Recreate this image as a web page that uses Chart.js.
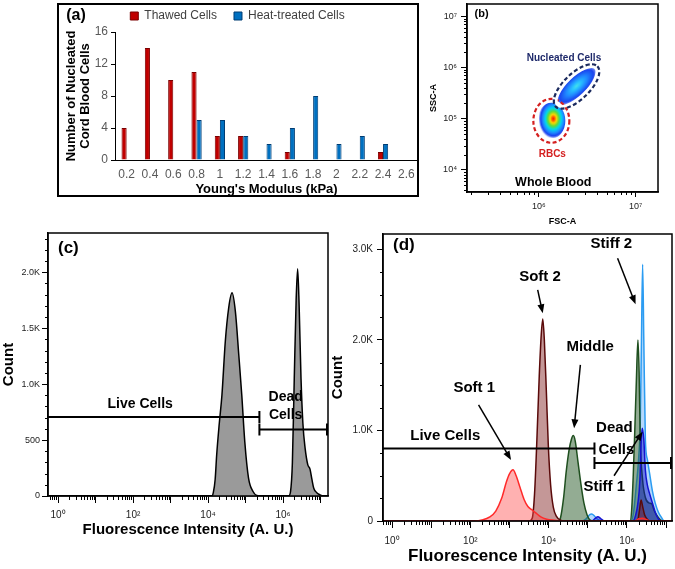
<!DOCTYPE html>
<html>
<head>
<meta charset="utf-8">
<script src="https://cdn.jsdelivr.net/npm/chart.js@4.4.0/dist/chart.umd.min.js"></script>
<style>
  html, body { margin: 0; padding: 0; background: #fff; }
  body { position: relative; width: 675px; height: 569px; overflow: hidden; }
  canvas { position: absolute; }
  #chartA { left: 57px; top: 3px; }
  #chartB { left: 420px; top: 0px; }
  #chartC { left: 0px; top: 225px; }
  #chartD { left: 328px; top: 225px; }
</style>
</head>
<body>
<canvas id="chartA" width="362" height="194"></canvas>
<canvas id="chartB" width="255" height="230"></canvas>
<canvas id="chartC" width="340" height="320"></canvas>
<canvas id="chartD" width="347" height="344"></canvas>
<script>
// ---- (a) Young's modulus histogram ----
const modulusKPa = ['0.2', '0.4', '0.6', '0.8', '1', '1.2', '1.4', '1.6', '1.8', '2', '2.2', '2.4', '2.6'];
const thawedCells = [4, 14, 10, 11, 3, 3, 0, 1, 0, 0, 0, 1, 0];
const heatTreatedCells = [0, 0, 0, 5, 5, 3, 2, 4, 8, 2, 3, 2, 0];

// ---- (b) FSC/SSC plot, log10 units ----
const rbcCentre = [6.15, 5.0];
const nucleatedCentre = [6.39, 5.64];
const rbcGate = [6.13, 4.96];
const nucleatedGate = [6.39, 5.63];

// ---- (c) single stain histogram, x in log10 units ----
const cExp = [-0.3, 4.1, 4.14, 4.19, 4.23, 4.3, 4.37, 4.46, 4.55, 4.64, 4.73, 4.82, 4.9, 4.98, 5.08, 5.2, 5.3, 5.45,
  6.15, 6.2, 6.25, 6.3, 6.35, 6.39, 6.43, 6.48, 6.53, 6.59, 6.66, 6.72, 6.77, 6.82, 6.9, 7.0, 7.08, 7.3];
const cCount = [0, 0, 30, 150, 366, 650, 900, 1380, 1680, 1815, 1645, 1260, 900, 485, 160, 40, 5, 0,
  0, 40, 300, 1050, 1750, 2030, 1700, 1050, 650, 425, 280, 240, 150, 70, 30, 8, 0, 0];

// ---- (d) sorted fractions, x in log10 units ----
const soft1Exp = [-0.3, 2.1, 2.3, 2.5, 2.65, 2.8, 2.92, 3.0, 3.09, 3.17, 3.27, 3.37, 3.47, 3.57, 3.67, 3.8, 3.95, 4.15, 4.35, 6.2, 6.3, 6.4, 6.5, 6.6, 7.3];
const soft1Count = [0, 0, 10, 45, 110, 250, 430, 520, 565, 500, 370, 240, 160, 125, 90, 45, 20, 8, 0, 0, 25, 30, 15, 0, 0];
const soft2Exp = [-0.3, 3.5, 3.58, 3.64, 3.7, 3.76, 3.81, 3.85, 3.89, 3.94, 3.99, 4.05, 4.12, 4.2, 4.3, 4.45, 6.2, 6.28, 6.32, 6.36, 6.4, 6.45, 6.52, 6.6, 7.3];
const soft2Count = [0, 0, 30, 300, 900, 1600, 2050, 2230, 2000, 1450, 850, 400, 150, 50, 10, 0, 0, 20, 120, 232, 160, 70, 20, 0, 0];
const middleExp = [-0.3, 4.25, 4.3, 4.38, 4.45, 4.52, 4.58, 4.63, 4.68, 4.75, 4.82, 4.9, 4.98, 5.06, 5.15,
  6.08, 6.12, 6.16, 6.2, 6.24, 6.28, 6.31, 6.34, 6.4, 6.47, 6.56, 6.63, 6.7, 6.78, 6.86, 6.95, 7.3];
const middleCount = [0, 0, 30, 250, 550, 780, 900, 943, 880, 650, 420, 200, 70, 10, 0,
  0, 120, 500, 1000, 1550, 2000, 1650, 900, 450, 260, 200, 190, 110, 50, 10, 0, 0];
const stiff2Exp = [-0.3, 4.85, 4.95, 5.05, 5.1, 5.18, 5.25, 5.35, 6.1, 6.17, 6.24, 6.3, 6.34, 6.37, 6.4, 6.43, 6.47, 6.52, 6.58, 6.65, 6.72, 6.8, 6.88, 6.95, 7.3];
const stiff2Count = [0, 0, 20, 70, 77, 50, 20, 0, 0, 100, 400, 700, 1100, 2000, 2836, 2000, 900, 680, 520, 330, 200, 100, 40, 0, 0];
const stiff1Exp = [-0.3, 5.1, 5.18, 5.26, 5.32, 5.42, 6.15, 6.22, 6.28, 6.33, 6.36, 6.39, 6.43, 6.47, 6.52, 6.58, 6.65, 6.72, 6.8, 6.88, 7.3];
const stiff1Count = [0, 0, 25, 48, 30, 0, 0, 60, 200, 450, 850, 1024, 900, 560, 400, 300, 200, 100, 25, 0, 0];

Chart.defaults.font.family = "'Liberation Sans', Arial, sans-serif";
Chart.defaults.color = '#000';
Chart.defaults.animation = false;
Chart.defaults.plugins.tooltip.enabled = false;

const SUP = { '0': '⁰', '1': '¹', '2': '²', '3': '³', '4': '⁴', '5': '⁵', '6': '⁶', '7': '⁷', '8': '⁸', '9': '⁹', '-': '⁻' };
const powLabel = e => '10' + String(e).split('').map(c => SUP[c]).join('');
const pts = (xs, ys) => xs.map((e, i) => ({ x: Math.pow(10, e), y: ys[i] }));

function logMinor(k0, k1) {
  const out = [];
  for (let k = k0; k <= k1; k++) for (let d = 2; d <= 9; d++) out.push(k + Math.log10(d));
  return out;
}
function linMinor(step, max, skip) {
  const out = [];
  for (let v = step; v <= max; v += step) if (v % skip !== 0) out.push(v);
  return out;
}

// frame, minor ticks, gates, arrows and labels
const panelPlugin = {
  id: 'panel',
  afterDraw(chart, args, o) {
    const ctx = chart.ctx, a = chart.chartArea;
    const sx = chart.scales.x, sy = chart.scales.y;
    const X = v => sx.getPixelForValue(o.logX ? Math.pow(10, v) : v);
    const Y = v => sy.getPixelForValue(o.logY ? Math.pow(10, v) : v);
    ctx.save();
    ctx.strokeStyle = '#000';
    if (o.frame === 'area') {
      ctx.lineWidth = 1.5;
      ctx.strokeRect(a.left, a.top, a.right - a.left, a.bottom - a.top);
    } else if (o.frame === 'canvas') {
      ctx.lineWidth = 2;
      ctx.strokeRect(1, 1, chart.width - 2, chart.height - 2);
    }
    (o.minor || []).forEach(m => {
      const s = chart.scales[m.axis];
      ctx.lineWidth = 1;
      m.values.forEach(v => {
        const val = s.type === 'logarithmic' ? Math.pow(10, v) : v;
        if (val < s.min || val > s.max) return;
        const p = Math.round(s.getPixelForValue(val)) + 0.5;
        ctx.beginPath();
        if (s.isHorizontal()) { ctx.moveTo(p, a.bottom); ctx.lineTo(p, a.bottom + m.len); }
        else { ctx.moveTo(a.left, p); ctx.lineTo(a.left - m.len, p); }
        ctx.stroke();
      });
    });
    (o.gates || []).forEach(g => {
      const x1 = Math.max(a.left, X(g.from)), x2 = Math.min(a.right - 1, X(g.to)), y = Y(g.y);
      ctx.lineWidth = 2;
      ctx.beginPath(); ctx.moveTo(x1, y); ctx.lineTo(x2, y);
      if (g.ends[0]) { ctx.moveTo(x1, y - 6); ctx.lineTo(x1, y + 6); }
      if (g.ends[1]) { ctx.moveTo(x2, y - 6); ctx.lineTo(x2, y + 6); }
      ctx.stroke();
    });
    (o.rings || []).forEach(r => {
      const cx = X(r.x), cy = Y(r.y), rot = r.rot * Math.PI / 180;
      if (r.under) {
        ctx.setLineDash([]); ctx.lineWidth = 3; ctx.strokeStyle = r.under;
        ctx.beginPath(); ctx.ellipse(cx, cy, r.rx - 2.5, r.ry - 2.5, rot, 0, 2 * Math.PI); ctx.stroke();
      }
      ctx.setLineDash([4, 2.5]); ctx.lineWidth = 2.2; ctx.strokeStyle = r.color;
      ctx.beginPath(); ctx.ellipse(cx, cy, r.rx, r.ry, rot, 0, 2 * Math.PI); ctx.stroke();
      ctx.setLineDash([]);
    });
    (o.arrows || []).forEach(ar => {
      const x1 = X(ar[0][0]), y1 = Y(ar[0][1]), x2 = X(ar[1][0]), y2 = Y(ar[1][1]);
      const ang = Math.atan2(y2 - y1, x2 - x1);
      ctx.strokeStyle = '#000'; ctx.fillStyle = '#000'; ctx.lineWidth = 1.5;
      ctx.beginPath(); ctx.moveTo(x1, y1); ctx.lineTo(x2 - 6 * Math.cos(ang), y2 - 6 * Math.sin(ang)); ctx.stroke();
      ctx.beginPath();
      ctx.moveTo(x2, y2);
      ctx.lineTo(x2 - 9 * Math.cos(ang) + 3.5 * Math.sin(ang), y2 - 9 * Math.sin(ang) - 3.5 * Math.cos(ang));
      ctx.lineTo(x2 - 9 * Math.cos(ang) - 3.5 * Math.sin(ang), y2 - 9 * Math.sin(ang) + 3.5 * Math.cos(ang));
      ctx.closePath(); ctx.fill();
    });
    (o.texts || []).forEach(t => {
      ctx.font = t.font;
      ctx.fillStyle = t.color || '#000';
      ctx.textAlign = t.align || 'center';
      ctx.textBaseline = 'middle';
      const x = t.px ? t.px[0] : X(t.x), y = t.px ? t.px[1] : Y(t.y);
      ctx.fillText(t.text, x, y);
    });
    ctx.restore();
  }
};

// fixed legend height for (a)
const legendFit = {
  id: 'legendFit',
  beforeLayout(chart) {
    const lg = chart.legend;
    if (!lg || lg._fixed) return;
    const fit = lg.fit;
    lg.fit = function () { fit.call(this); this.height = 39; };
    lg._fixed = true;
  }
};

function logAxis(o) {
  return {
    type: 'logarithmic',
    min: Math.pow(10, o.min), max: Math.pow(10, o.max),
    afterBuildTicks: s => { s.ticks = o.majors.map(e => ({ value: Math.pow(10, e) })); },
    afterFit: s => {
      if (o.height) s.height = o.height;
      if (o.width) s.width = o.width;
      s.paddingLeft = s.paddingRight = s.paddingTop = s.paddingBottom = 0;
    },
    grid: { drawOnChartArea: false, tickLength: o.tickLength, color: '#000', tickWidth: 1 },
    border: { color: '#000', width: 1.5 },
    ticks: {
      autoSkip: false, maxRotation: 0, padding: o.tickPad, color: '#222',
      font: { size: o.tickFont },
      callback: v => {
        const e = Math.round(Math.log10(v));
        return o.labelled.includes(e) ? powLabel(e) : '';
      }
    },
    title: { display: true, text: o.title, font: { size: o.titleFont, weight: 'bold' }, padding: o.titlePad, color: '#000' }
  };
}

function countAxis(o) {
  return {
    type: 'linear',
    min: 0, max: o.max,
    afterBuildTicks: s => { s.ticks = o.majors.map(v => ({ value: v })); },
    afterFit: s => { s.width = o.width; s.paddingTop = s.paddingBottom = 0; },
    grid: { drawOnChartArea: false, tickLength: 6, color: '#000' },
    border: { color: '#000', width: 1.5 },
    ticks: {
      autoSkip: false, padding: o.tickPad, color: '#222', font: { size: o.tickFont },
      callback: v => v >= 1000 ? (v / 1000).toFixed(1) + 'K' : String(v)
    },
    title: { display: true, text: 'Count', font: { size: 15, weight: 'bold' }, padding: { top: o.titlePad, bottom: 0 }, color: '#000' }
  };
}

// ---------------- (a) ----------------
new Chart(document.getElementById('chartA'), {
  type: 'bar',
  data: {
    labels: modulusKPa,
    datasets: [
      { label: 'Thawed Cells', data: thawedCells, backgroundColor: '#C00000', borderColor: '#7a0000', borderWidth: 1 },
      { label: 'Heat-treated Cells', data: heatTreatedCells, backgroundColor: '#0070C0', borderColor: '#003d73', borderWidth: 1 }
    ]
  },
  options: {
    responsive: false,
    layout: { padding: { top: -10, right: 1, left: 0, bottom: 0 }, autoPadding: false },
    datasets: { bar: { categoryPercentage: 0.44, barPercentage: 1 } },
    scales: {
      x: {
        afterFit: s => { s.height = 37; s.paddingLeft = s.paddingRight = 0; },
        grid: { display: false, drawTicks: false },
        border: { color: '#000', width: 1 },
        ticks: { padding: 7, color: '#595959', font: { size: 12 }, maxRotation: 0 },
        title: { display: true, text: "Young's Modulus (kPa)", font: { size: 13, weight: 'bold' }, padding: 0, color: '#000' }
      },
      y: {
        min: 0, max: 16,
        afterFit: s => { s.width = 58; s.paddingTop = s.paddingBottom = 0; },
        grid: { drawOnChartArea: false, tickLength: 4, color: '#000' },
        border: { color: '#000', width: 1 },
        ticks: { stepSize: 4, padding: 3, color: '#595959', font: { size: 12 } },
        title: {
          display: true, text: ['Number of Nucleated', 'Cord Blood Cells'],
          font: { size: 13, weight: 'bold', lineHeight: 1.05 }, padding: { top: 8, bottom: 0 }, color: '#000'
        }
      }
    },
    plugins: {
      legend: {
        position: 'top',
        labels: { boxWidth: 8, boxHeight: 8, padding: 17, color: '#404040', font: { size: 12 } }
      },
      panel: { frame: 'canvas', texts: [{ text: '(a)', px: [19, 13], font: 'bold 16px "Liberation Sans", Arial' }] }
    }
  },
  plugins: [panelPlugin, legendFit]
});

// ---------------- (b) ----------------
function blob(w, h, stops) {
  const c = document.createElement('canvas');
  c.width = w; c.height = h;
  const g = c.getContext('2d');
  g.translate(w / 2, h / 2);
  g.scale(w / 2, h / 2);
  const grad = g.createRadialGradient(0, 0, 0, 0, 0, 1);
  stops.forEach(s => grad.addColorStop(s[0], s[1]));
  g.fillStyle = grad;
  g.beginPath(); g.arc(0, 0, 1, 0, 2 * Math.PI); g.fill();
  return c;
}
const rbcImg = blob(29, 39, [[0, '#ff1a00'], [0.1, '#ff5a00'], [0.22, '#ffd800'], [0.38, '#5cdc3c'],
  [0.55, '#00d8f0'], [0.72, '#1f8cff'], [0.88, '#1a40f0'], [1, 'rgba(30,60,240,0.25)']]);
const nucImg = blob(54, 22, [[0, '#46e0e8'], [0.2, '#28c2ff'], [0.5, '#1f86ff'], [0.8, '#1a44ee'], [1, 'rgba(20,50,230,0.25)']]);

new Chart(document.getElementById('chartB'), {
  type: 'scatter',
  data: {
    datasets: [
      { data: [{ x: Math.pow(10, nucleatedCentre[0]), y: Math.pow(10, nucleatedCentre[1]) }], pointStyle: nucImg, rotation: -43 },
      { data: [{ x: Math.pow(10, rbcCentre[0]), y: Math.pow(10, rbcCentre[1]) }], pointStyle: rbcImg }
    ]
  },
  options: {
    responsive: false,
    layout: { padding: { top: 4, right: 17, left: 0, bottom: 0 }, autoPadding: false },
    scales: {
      x: logAxis({ min: 5.26, max: 7.23, majors: [6, 7], labelled: [6, 7], height: 38, tickLength: 5, tickPad: 4,
        tickFont: 9, title: 'FSC-A', titleFont: 9, titlePad: { top: 0, bottom: 3 } }),
      y: logAxis({ min: 3.57, max: 7.24, majors: [4, 5, 6, 7], labelled: [4, 5, 6, 7], width: 47, tickLength: 6, tickPad: 4,
        tickFont: 9, title: 'SSC-A', titleFont: 9, titlePad: { top: 8, bottom: 0 } })
    },
    plugins: {
      legend: { display: false },
      panel: {
        frame: 'area', logX: true, logY: true,
        minor: [{ axis: 'x', values: logMinor(5, 7), len: 3 }, { axis: 'y', values: logMinor(3, 7), len: 3 }],
        rings: [
          { x: rbcGate[0], y: rbcGate[1], rx: 18, ry: 22, rot: 0, color: '#d42020', under: '#fff' },
          { x: nucleatedGate[0], y: nucleatedGate[1], rx: 29, ry: 13, rot: -44, color: '#1b2a5e', under: '#fff' }
        ],
        texts: [
          { text: '(b)', x: 5.41, y: 7.04, font: 'bold 11px "Liberation Sans", Arial' },
          { text: 'Nucleated Cells', x: 6.26, y: 6.18, font: 'bold 10px "Liberation Sans", Arial', color: '#1f2a6b' },
          { text: 'RBCs', x: 6.14, y: 4.31, font: 'bold 10px "Liberation Sans", Arial', color: '#d42020' },
          { text: 'Whole Blood', x: 6.15, y: 3.75, font: 'bold 12.5px "Liberation Sans", Arial' }
        ]
      }
    }
  },
  plugins: [panelPlugin]
});

// ---------------- (c) ----------------
new Chart(document.getElementById('chartC'), {
  type: 'line',
  data: {
    datasets: [{
      data: pts(cExp, cCount), borderColor: '#000', borderWidth: 1.5, backgroundColor: '#9a9a9a',
      fill: 'origin', pointRadius: 0, cubicInterpolationMode: 'monotone'
    }]
  },
  options: {
    responsive: false,
    layout: { padding: { top: 8, right: 12, left: 0, bottom: 0 }, autoPadding: false },
    scales: {
      x: logAxis({ min: -0.27, max: 7.2, majors: [0, 1, 2, 3, 4, 5, 6, 7], labelled: [0, 2, 4, 6], height: 49, tickLength: 7,
        tickPad: 6, tickFont: 10, title: 'Fluorescence Intensity (A. U.)', titleFont: 15, titlePad: { top: 0, bottom: 6 } }),
      y: countAxis({ max: 2350, majors: [0, 500, 1000, 1500, 2000], width: 48, tickPad: 2, tickFont: 9, titlePad: 0 })
    },
    plugins: {
      legend: { display: false },
      panel: {
        frame: 'area', logX: true,
        minor: [{ axis: 'x', values: logMinor(-1, 7), len: 4 }, { axis: 'y', values: linMinor(100, 2300, 500), len: 3 }],
        gates: [{ from: -0.3, to: 5.37, y: 705, ends: [false, true] }, { from: 5.37, to: 7.3, y: 595, ends: [true, true] }],
        texts: [
          { text: '(c)', px: [58, 23], align: 'left', font: 'bold 17px "Liberation Sans", Arial' },
          { text: 'Live Cells', x: 2.19, y: 821, font: 'bold 14px "Liberation Sans", Arial' },
          { text: 'Dead', x: 6.07, y: 887, font: 'bold 14px "Liberation Sans", Arial' },
          { text: 'Cells', x: 6.07, y: 723, font: 'bold 14px "Liberation Sans", Arial' }
        ]
      }
    }
  },
  plugins: [panelPlugin]
});

// ---------------- (d) ----------------
const curve = (xs, ys, line, fill) => ({
  data: pts(xs, ys), borderColor: line, backgroundColor: fill, borderWidth: 1.5,
  fill: 'origin', pointRadius: 0, cubicInterpolationMode: 'monotone'
});
new Chart(document.getElementById('chartD'), {
  type: 'line',
  data: {
    datasets: [
      curve(soft1Exp, soft1Count, '#ff2a2a', 'rgba(255,70,70,0.42)'),
      curve(soft2Exp, soft2Count, '#5a0a0a', 'rgba(125,25,25,0.45)'),
      curve(stiff1Exp, stiff1Count, '#1414d0', 'rgba(10,10,200,0.45)'),
      curve(middleExp, middleCount, '#1f4f1f', 'rgba(40,90,40,0.5)'),
      curve(stiff2Exp, stiff2Count, '#2b9cf2', 'rgba(70,160,250,0.4)')
    ]
  },
  options: {
    responsive: false,
    layout: { padding: { top: 9, right: 3, left: 0, bottom: 0 }, autoPadding: false },
    scales: {
      x: logAxis({ min: -0.23, max: 7.15, majors: [0, 1, 2, 3, 4, 5, 6, 7], labelled: [0, 2, 4, 6], height: 48, tickLength: 7,
        tickPad: 7, tickFont: 10, title: 'Fluorescence Intensity (A. U.)', titleFont: 17, titlePad: { top: 0, bottom: 2 } }),
      y: countAxis({ max: 3170, majors: [0, 1000, 2000, 3000], width: 55, tickPad: 4, tickFont: 10, titlePad: 1 })
    },
    plugins: {
      legend: { display: false },
      panel: {
        frame: 'area', logX: true,
        minor: [{ axis: 'x', values: logMinor(-1, 7), len: 4 }, { axis: 'y', values: linMinor(250, 3000, 1000), len: 3 }],
        gates: [{ from: -0.3, to: 5.17, y: 800, ends: [false, true] }, { from: 5.17, to: 7.3, y: 640, ends: [true, true] }],
        arrows: [
          [[2.21, 1282], [3.04, 674]],
          [[3.72, 2552], [3.85, 2295]],
          [[4.81, 1724], [4.65, 1024]],
          [[5.76, 2903], [6.22, 2394]],
          [[5.67, 500], [6.4, 987]]
        ],
        texts: [
          { text: '(d)', px: [65, 20], align: 'left', font: 'bold 17px "Liberation Sans", Arial' },
          { text: 'Soft 1', x: 2.1, y: 1470, font: 'bold 15px "Liberation Sans", Arial' },
          { text: 'Soft 2', x: 3.78, y: 2700, font: 'bold 15px "Liberation Sans", Arial' },
          { text: 'Middle', x: 5.06, y: 1926, font: 'bold 15px "Liberation Sans", Arial' },
          { text: 'Stiff 2', x: 5.6, y: 3057, font: 'bold 15px "Liberation Sans", Arial' },
          { text: 'Live Cells', x: 1.36, y: 943, font: 'bold 15px "Liberation Sans", Arial' },
          { text: 'Dead', x: 5.68, y: 1024, font: 'bold 15px "Liberation Sans", Arial' },
          { text: 'Cells', x: 5.73, y: 784, font: 'bold 15px "Liberation Sans", Arial' },
          { text: 'Stiff 1', x: 5.42, y: 379, font: 'bold 15px "Liberation Sans", Arial' }
        ]
      }
    }
  },
  plugins: [panelPlugin]
});
</script>
</body>
</html>
